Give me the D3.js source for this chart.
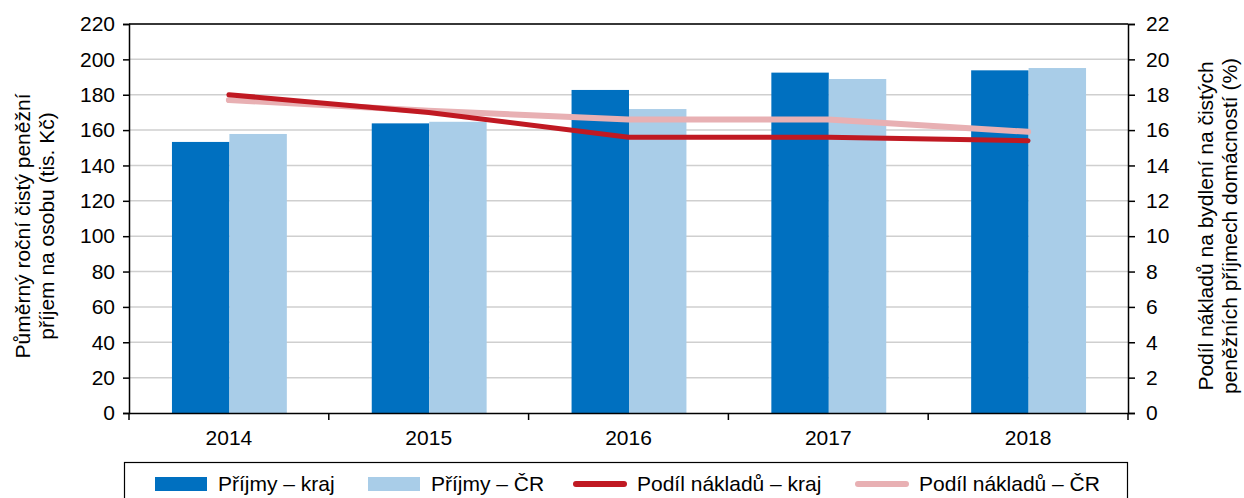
<!DOCTYPE html>
<html>
<head>
<meta charset="utf-8">
<script src="https://cdn.jsdelivr.net/npm/d3@7"></script>
<style>
  body { margin: 0; background: #fff; }
  svg { display: block; font-family: "Liberation Sans", Arial, sans-serif; }
</style>
</head>
<body>
<svg id="chart" width="1244" height="498"></svg>
<script>
const years = ["2014", "2015", "2016", "2017", "2018"];
const incomeRegion = [153.3, 163.8, 182.7, 192.5, 193.8];
const incomeCR = [157.8, 164.7, 171.9, 188.9, 195.1];
const shareRegion = [18.0, 17.0, 15.6, 15.6, 15.4];
const shareCR = [17.7, 17.1, 16.6, 16.6, 15.9];
const leftTicks = d3.range(0, 221, 20);
const rightTicks = d3.range(0, 23, 2);

const colDark = "#0070c0", colLight = "#a9cde8", colRed = "#c01922", colPink = "#e8b0b3";
const fs = 21;

const margin = { top: 24, right: 116, bottom: 85, left: 129 };
const W = 1244, H = 498;
const w = W - margin.left - margin.right;
const h = H - margin.top - margin.bottom;

const svg = d3.select("#chart");
const g = svg.append("g").attr("transform", `translate(${margin.left},${margin.top})`);

const x = d3.scaleBand().domain(years).range([0, w]);
const xs = d3.scaleBand().domain(["kraj", "cr"]).range([x.bandwidth() * 0.215, x.bandwidth() * 0.79]);
const yL = d3.scaleLinear().domain([0, 220]).range([h, 0]);
const yR = d3.scaleLinear().domain([0, 22]).range([h, 0]);

// gridlines
g.append("g")
  .selectAll("line")
  .data(leftTicks.slice(1))
  .join("line")
  .attr("x1", 0).attr("x2", w)
  .attr("y1", d => yL(d)).attr("y2", d => yL(d))
  .attr("stroke", "#cfcfcf").attr("stroke-width", 1.5);

// bars
const grp = g.append("g").selectAll("g").data(years).join("g")
  .attr("transform", d => `translate(${x(d)},0)`);
grp.append("rect")
  .attr("x", xs("kraj")).attr("width", xs.bandwidth())
  .attr("y", (d, i) => yL(incomeRegion[i])).attr("height", (d, i) => h - yL(incomeRegion[i]))
  .attr("fill", colDark);
grp.append("rect")
  .attr("x", xs("cr")).attr("width", xs.bandwidth())
  .attr("y", (d, i) => yL(incomeCR[i])).attr("height", (d, i) => h - yL(incomeCR[i]))
  .attr("fill", colLight);

// lines
const cx = d => x(d) + x.bandwidth() / 2;
const line = vals => d3.line().x((d, i) => cx(years[i])).y(d => yR(d))(vals);
g.append("path").attr("d", line(shareCR))
  .attr("fill", "none").attr("stroke", colPink).attr("stroke-width", 6).attr("stroke-linecap", "round");
g.append("path").attr("d", line(shareRegion))
  .attr("fill", "none").attr("stroke", colRed).attr("stroke-width", 5).attr("stroke-linecap", "round");

// frame top
g.append("line").attr("x1", 0).attr("x2", w).attr("y1", 0).attr("y2", 0).attr("stroke", "#000").attr("stroke-width", 1.5);

// axes
const axL = g.append("g").call(d3.axisLeft(yL).tickValues(leftTicks).tickSize(6).tickPadding(8));
const axR = g.append("g").attr("transform", `translate(${w},0)`)
  .call(d3.axisRight(yR).tickValues(rightTicks).tickSize(7).tickPadding(11));
const axB = g.append("g").attr("transform", `translate(0,${h})`)
  .call(d3.axisBottom(x).tickSize(0).tickPadding(17));
// category boundary ticks
g.append("g").selectAll("line").data(d3.range(years.length + 1)).join("line")
  .attr("x1", i => i * x.step()).attr("x2", i => i * x.step())
  .attr("y1", h).attr("y2", h + 7).attr("stroke", "#000").attr("stroke-width", 1.5);

[axL, axR, axB].forEach(a => {
  a.select(".domain").attr("stroke", "#000").attr("stroke-width", 1.5);
  a.selectAll(".tick line").attr("stroke", "#000").attr("stroke-width", 1.5);
  a.selectAll("text").attr("font-size", fs).attr("fill", "#000")
    .attr("font-family", "'Liberation Sans', Arial, sans-serif");
});

// axis titles
const leftTitle = svg.append("text")
  .attr("transform", `translate(30,226) rotate(-90)`)
  .attr("text-anchor", "middle").attr("font-size", fs);
leftTitle.append("tspan").attr("x", 0).attr("dy", 0).text("Půměrný roční čistý peněžní");
leftTitle.append("tspan").attr("x", 0).attr("dy", 24).text("příjem na osobu (tis. Kč)");

const rightTitle = svg.append("text")
  .attr("transform", `translate(1213,226) rotate(-90)`)
  .attr("text-anchor", "middle").attr("font-size", fs);
rightTitle.append("tspan").attr("x", 0).attr("dy", 0).text("Podíl nákladů na bydlení na čistých");
rightTitle.append("tspan").attr("x", 0).attr("dy", 24).text("peněžních příjmech domácností (%)");

// legend
const legend = svg.append("g");
legend.append("rect").attr("x", 124.5).attr("y", 462.5).attr("width", 1003).attr("height", 50)
  .attr("fill", "#fff").attr("stroke", "#000").attr("stroke-width", 1.2);
const items = [
  { label: "Příjmy – kraj", type: "rect", color: colDark, x: 155 },
  { label: "Příjmy – ČR", type: "rect", color: colLight, x: 368 },
  { label: "Podíl nákladů – kraj", type: "line", color: colRed, x: 574 },
  { label: "Podíl nákladů – ČR", type: "line", color: colPink, x: 856 }
];
const li = legend.selectAll("g.item").data(items).join("g").attr("class", "item")
  .attr("transform", d => `translate(${d.x},484)`);
li.filter(d => d.type === "rect").append("rect")
  .attr("x", 0).attr("y", -7).attr("width", 52).attr("height", 14).attr("fill", d => d.color);
li.filter(d => d.type === "line").append("line")
  .attr("x1", 2).attr("x2", 50).attr("y1", 0).attr("y2", 0)
  .attr("stroke", d => d.color).attr("stroke-width", 6).attr("stroke-linecap", "round");
li.append("text").attr("x", 63).attr("y", 7).attr("font-size", fs).text(d => d.label);
</script>
</body>
</html>
